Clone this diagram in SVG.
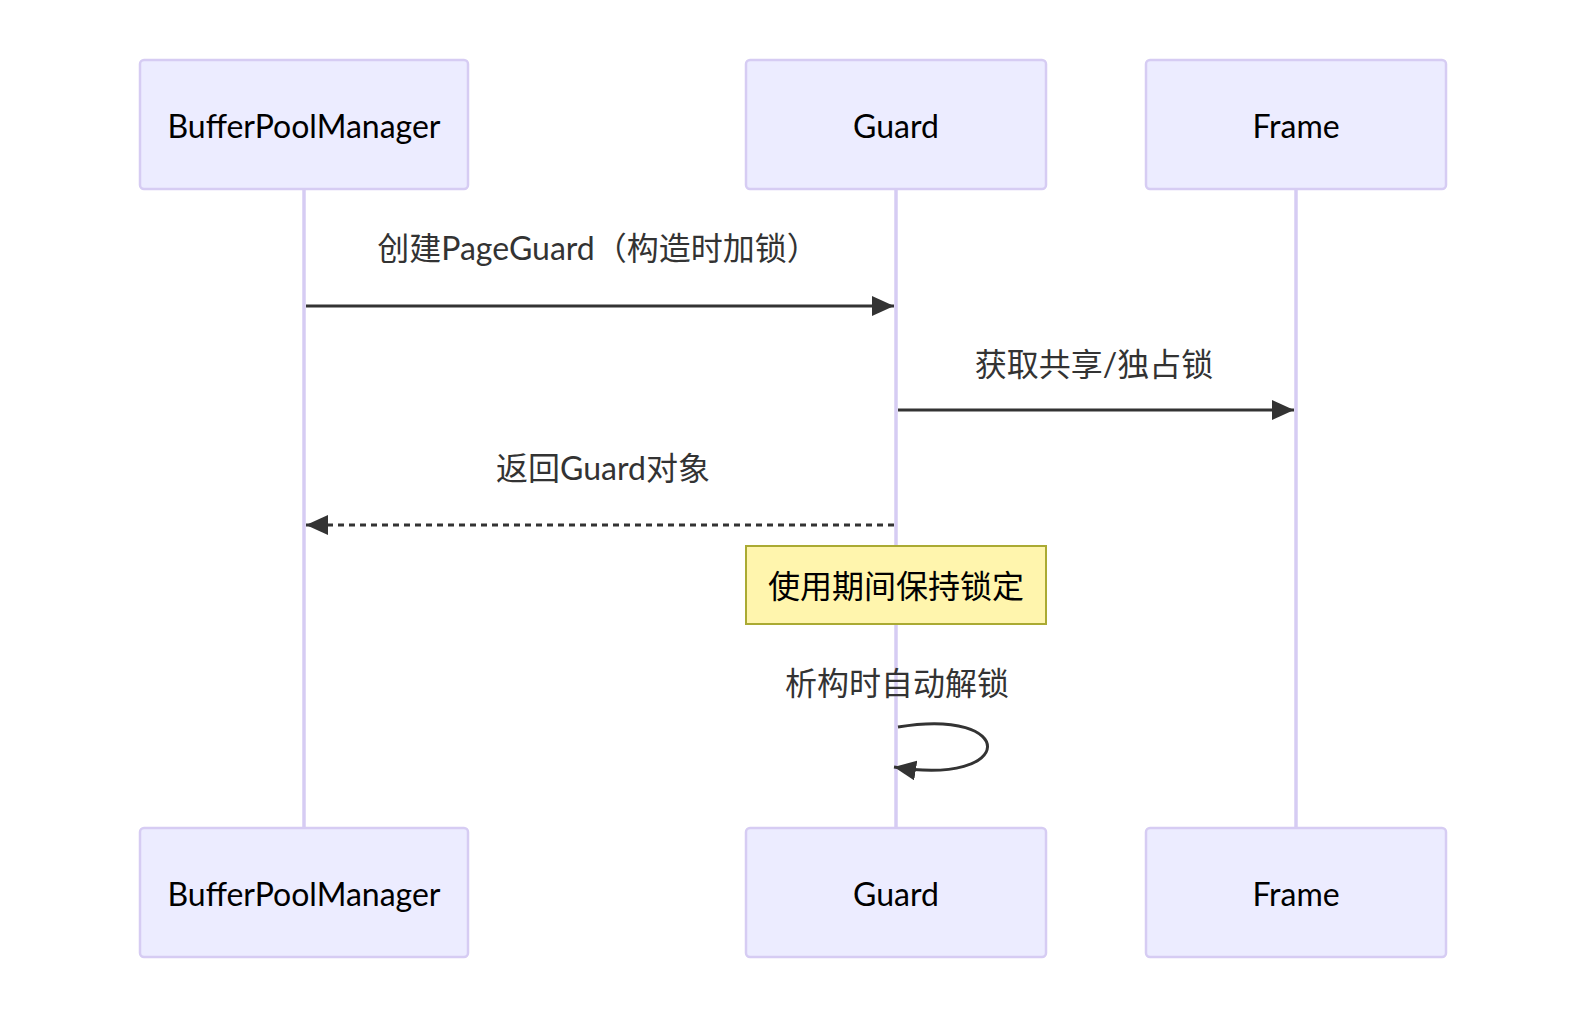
<svg xmlns="http://www.w3.org/2000/svg" width="1586" height="1020" viewBox="0 0 1586 1020">
<style>
.actor{fill:#ECECFF;stroke:#d6ccf3;stroke-width:2.5}
.life{stroke:#d6ccf3;stroke-width:3.5}
.at{font-family:Lato,"Noto Sans CJK SC",sans-serif;font-size:32px;fill:#000;text-anchor:middle;dominant-baseline:central}
.mt{font-family:Lato,"Noto Sans CJK SC",sans-serif;font-size:32px;fill:#333;text-anchor:middle;dominant-baseline:central}
.msg{stroke:#333;stroke-width:3;fill:none}
.note{fill:#fff5ad;stroke:#aaaa33;stroke-width:2}
.nt{font-family:Lato,"Noto Sans CJK SC",sans-serif;font-size:32px;fill:#000;text-anchor:middle;dominant-baseline:central}
</style>
<defs>
<marker id="ah" markerUnits="userSpaceOnUse" markerWidth="24" markerHeight="22" refX="22" refY="10" orient="auto">
<path d="M0,0 L22,10 L0,20 Z" fill="#333"/>
</marker>
</defs>
<rect width="1586" height="1020" fill="#fff"/>
<g id="lifelines">
<line class="life" x1="304" y1="189" x2="304" y2="828"/>
<line class="life" x1="896" y1="189" x2="896" y2="828"/>
<line class="life" x1="1296" y1="189" x2="1296" y2="828"/>
</g>
<g id="actor-bpm-top"><rect class="actor" x="140" y="60" width="328" height="129" rx="4"/><text class="at" x="304" y="125">BufferPoolManager</text></g>
<g id="actor-guard-top"><rect class="actor" x="746" y="60" width="300" height="129" rx="4"/><text class="at" x="896" y="125">Guard</text></g>
<g id="actor-frame-top"><rect class="actor" x="1146" y="60" width="300" height="129" rx="4"/><text class="at" x="1296" y="125">Frame</text></g>
<g id="actor-bpm-bottom"><rect class="actor" x="140" y="828" width="328" height="129" rx="4"/><text class="at" x="304" y="893">BufferPoolManager</text></g>
<g id="actor-guard-bottom"><rect class="actor" x="746" y="828" width="300" height="129" rx="4"/><text class="at" x="896" y="893">Guard</text></g>
<g id="actor-frame-bottom"><rect class="actor" x="1146" y="828" width="300" height="129" rx="4"/><text class="at" x="1296" y="893">Frame</text></g>
<g id="note"><rect class="note" x="746" y="546" width="300" height="78"/><text class="nt" x="896" y="585">使用期间保持锁定</text></g>
<g id="connectors">
<line class="msg" x1="306" y1="306" x2="894" y2="306" marker-end="url(#ah)"/>
<text class="mt" x="598" y="247">创建PageGuard（构造时加锁）</text>
<line class="msg" x1="898" y1="410" x2="1294" y2="410" marker-end="url(#ah)"/>
<text class="mt" x="1094" y="363">获取共享/独占锁</text>
<line class="msg" x1="894" y1="525" x2="306" y2="525" stroke-dasharray="6,5" marker-end="url(#ah)"/>
<text class="mt" x="603" y="467">返回Guard对象</text>
<path class="msg" d="M898,727 C1018,707 1018,787 894,767" marker-end="url(#ah)"/>
<text class="mt" x="897" y="682">析构时自动解锁</text>
</g>
</svg>
